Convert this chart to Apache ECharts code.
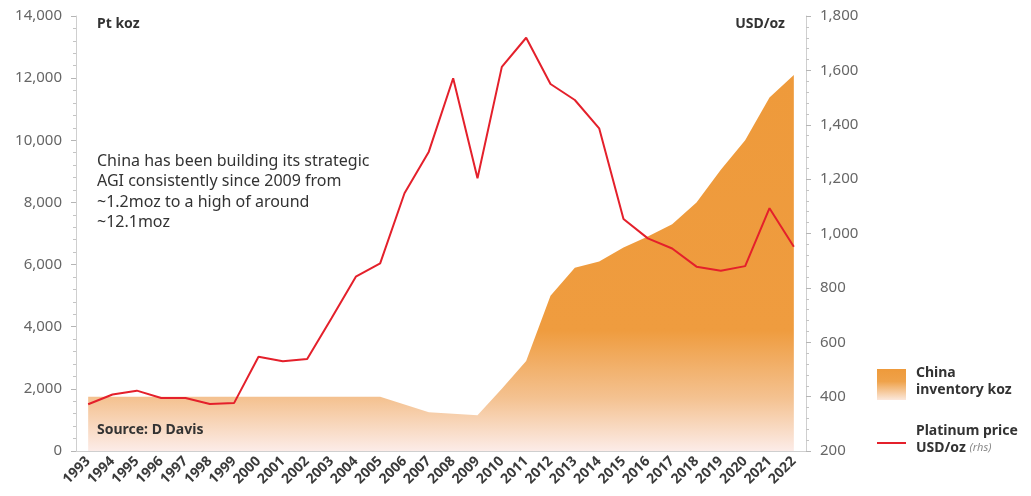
<!DOCTYPE html>
<html>
<head>
<meta charset="utf-8">
<script src="https://cdn.jsdelivr.net/npm/echarts@6/dist/echarts.min.js"></script>
<style>
  html, body { margin: 0; padding: 0; background: #fff; }
  #chart { width: 1031px; height: 496px; }
</style>
</head>
<body>
<div id="chart"></div>
<script>
// Years on the category axis
const years = ['1993','1994','1995','1996','1997','1998','1999','2000','2001','2002',
  '2003','2004','2005','2006','2007','2008','2009','2010','2011','2012',
  '2013','2014','2015','2016','2017','2018','2019','2020','2021','2022'];

// China platinum inventory, koz (left axis)
const chinaInventory = [1750,1750,1750,1750,1750,1750,1750,1750,1750,1750,
  1750,1750,1750,1500,1250,1200,1150,2000,2900,5000,
  5900,6100,6550,6900,7300,8000,9050,10000,11380,12100];

// Platinum price, USD/oz (right axis)
const platinumPrice = [372,408,422,395,395,373,377,547,530,538,
  688,841,890,1148,1301,1571,1203,1613,1720,1550,
  1491,1387,1053,982,945,878,863,880,1093,951];

const FONT = '"Noto Sans", "DejaVu Sans", sans-serif';
const fmt = v => v.toLocaleString('en-US');

const chart = echarts.init(document.getElementById('chart'), null, { renderer: 'canvas' });

const areaGradient = new echarts.graphic.LinearGradient(0, 0, 0, 1, [
  { offset: 0, color: '#EE9A3B' },
  { offset: 0.68, color: '#EF9C3F' },
  { offset: 0.86, color: '#F4C291' },
  { offset: 1, color: '#FCECE8' }
]);

chart.setOption({
  animation: false,
  backgroundColor: '#ffffff',
  textStyle: { fontFamily: FONT },
  grid: { left: 76, right: 225, top: 16, bottom: 45, containLabel: false },
  xAxis: {
    type: 'category',
    data: years,
    boundaryGap: true,
    axisLine: { lineStyle: { color: '#cfcfcf', width: 1 } },
    axisTick: { show: false },
    axisLabel: {
      rotate: 45, interval: 0, margin: 8,
      color: '#3a3a3a', fontSize: 14, fontWeight: 'bold', fontFamily: FONT
    },
    splitLine: { show: false }
  },
  yAxis: [
    {
      type: 'value', min: 0, max: 14000, interval: 2000, position: 'left',
      axisLine: { show: true, lineStyle: { color: '#cfcfcf' } },
      axisTick: { show: true, length: 5, lineStyle: { color: '#b5b5b5' } },
      minorTick: { show: true, splitNumber: 5, length: 3, lineStyle: { color: '#c4c4c4' } },
      axisLabel: { color: '#666', fontSize: 15, margin: 14, formatter: fmt, fontFamily: FONT },
      splitLine: { show: false }
    },
    {
      type: 'value', min: 200, max: 1800, interval: 200, position: 'right',
      axisLine: { show: true, lineStyle: { color: '#cfcfcf' } },
      axisTick: { show: true, length: 5, lineStyle: { color: '#b5b5b5' } },
      minorTick: { show: true, splitNumber: 5, length: 3, lineStyle: { color: '#c4c4c4' } },
      axisLabel: { color: '#666', fontSize: 15, margin: 14, formatter: fmt, fontFamily: FONT },
      splitLine: { show: false }
    }
  ],
  series: [
    {
      name: 'China inventory koz',
      type: 'line',
      yAxisIndex: 0,
      data: chinaInventory,
      symbol: 'none',
      lineStyle: { width: 0 },
      areaStyle: { color: areaGradient, opacity: 1 },
      z: 1
    },
    {
      name: 'Platinum price USD/oz (rhs)',
      type: 'line',
      yAxisIndex: 1,
      data: platinumPrice,
      symbol: 'none',
      lineStyle: { color: '#E4202B', width: 2 },
      z: 3
    }
  ],
  graphic: [
    { type: 'text', left: 97, top: 17, style: { text: 'Pt koz', font: 'bold 14px ' + FONT, fill: '#333' } },
    { type: 'text', right: 246, top: 17, style: { text: 'USD/oz', font: 'bold 14px ' + FONT, fill: '#333', textAlign: 'right' } },
    { type: 'text', left: 97, top: 151, style: {
        text: 'China has been building its strategic\nAGI consistently since 2009 from\n~1.2moz to a high of around\n~12.1moz',
        font: '16px ' + FONT, fill: '#333', lineHeight: 20.5 } },
    { type: 'text', left: 97, top: 423, style: { text: 'Source: D Davis', font: 'bold 14px ' + FONT, fill: '#333' }, z: 10 },
    // legend
    { type: 'rect', left: 877, top: 369, shape: { width: 29, height: 31 },
      style: { fill: new echarts.graphic.LinearGradient(0, 0, 0, 1, [
        { offset: 0, color: '#EE9A3B' }, { offset: 0.4, color: '#EFA24A' }, { offset: 1, color: '#FBE8DC' }]) } },
    { type: 'text', left: 916, top: 365, style: { text: 'China\ninventory koz', font: 'bold 14px ' + FONT, fill: '#333', lineHeight: 17 } },
    { type: 'line', shape: { x1: 877, y1: 443, x2: 906, y2: 443 }, style: { stroke: '#E4202B', lineWidth: 2 } },
    { type: 'text', left: 916, top: 424, style: {
        text: '{b|Platinum price}\n{b|USD/oz }{i|(rhs)}',
        rich: {
          b: { font: 'bold 14px ' + FONT, fill: '#333', lineHeight: 17 },
          i: { font: 'italic 11px ' + FONT, fill: '#888', lineHeight: 17 }
        } } }
  ]
});
</script>
</body>
</html>
